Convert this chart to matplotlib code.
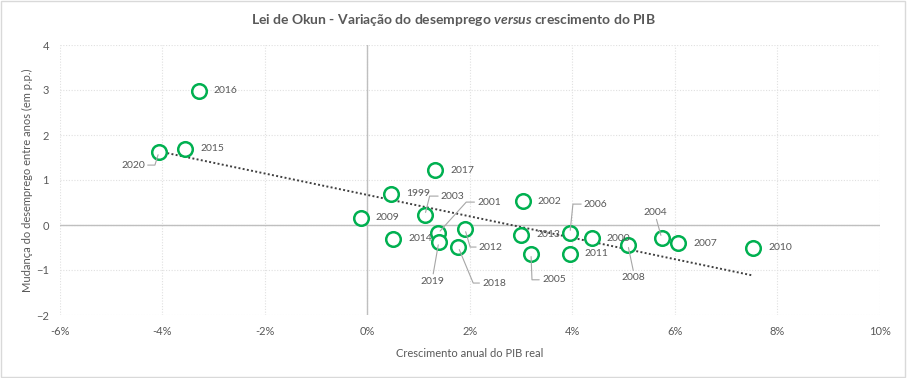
import numpy as np
import matplotlib
matplotlib.use("Agg")
import matplotlib.pyplot as plt
from matplotlib.patches import Rectangle
from matplotlib.ticker import FuncFormatter

plt.rcParams['font.family'] = ['Lato', 'DejaVu Sans']
plt.rcParams['mathtext.fontset'] = 'custom'
plt.rcParams['mathtext.rm'] = 'Lato:bold'
plt.rcParams['mathtext.it'] = 'Lato:italic:bold'

# Data: GDP growth (%) and change in unemployment (p.p.)
years = ['1999', '2000', '2001', '2002', '2003', '2004', '2005', '2006', '2007',
         '2008', '2009', '2010', '2011', '2012', '2013', '2014', '2015', '2016',
         '2017', '2018', '2019', '2020']
gdp = [0.46, 4.38, 1.38, 3.03, 1.12, 5.74, 3.19, 3.95, 6.06,
       5.08, -0.13, 7.53, 3.95, 1.90, 3.00, 0.50, -3.56, -3.29,
       1.32, 1.77, 1.39, -4.07]
unemp = [0.69, -0.29, -0.18, 0.53, 0.22, -0.29, -0.64, -0.18, -0.40,
         -0.44, 0.16, -0.51, -0.64, -0.09, -0.22, -0.31, 1.69, 2.98,
         1.22, -0.49, -0.38, 1.62]

x_ticks = [-6, -4, -2, 0, 2, 4, 6, 8, 10]
y_ticks = [-2, -1, 0, 1, 2, 3, 4]

# label placement: year -> (dx, dy, ha, va, relpos, corner) in pixels
plain = (15, 0, 'left', 'center', None, None)
label_pos = {
    '2020': (-14, -13, 'right', 'center', (1, 0.5), (-4, -13)),
    '2003': (16, 19, 'left', 'center', (0, 0.5), (5, 20)),
    '2001': (39, 31, 'left', 'center', (0, 0.5), (28, 31)),
    '2019': (-6, -39, 'center', 'center', (0.5, 1), None),
    '2012': (14, -18, 'left', 'center', (0, 0.5), (5, -17)),
    '2018': (24, -36, 'left', 'center', (0, 0.5), (15, -36)),
    '2005': (11, -26, 'left', 'center', (0, 0.5), (1, -26)),
    '2006': (14, 29, 'left', 'center', (0, 0.5), (3, 29)),
    '2008': (6, -33, 'center', 'center', (0.5, 1), None),
    '2004': (-6, 26, 'center', 'center', (0.5, 0), None),
}

green = '#00B050'
grey_txt = '#595959'

fig = plt.figure(figsize=(9.07, 3.78), dpi=100)
ax = fig.add_axes([60 / 907, 1 - 315 / 378, 820 / 907, 270 / 378])
fig.patches.append(Rectangle((0.001, 0.002), 0.997, 0.995, transform=fig.transFigure,
                             fill=False, edgecolor='#d9d9d9', lw=1))

ax.set_xlim(-6, 10)
ax.set_ylim(-2, 4)
ax.set_xticks(x_ticks)
ax.set_yticks(y_ticks)
ax.xaxis.set_major_formatter(FuncFormatter(lambda v, p: f'{v:.0f}%'))
ax.grid(True, linestyle=(0, (1, 1.5)), color='#e0e0e0', lw=0.8)
ax.set_axisbelow(True)
for s in ax.spines.values():
    s.set_visible(False)
ax.axhline(0, color='#bfbfbf', lw=1, zorder=1)
ax.axvline(0, color='#bfbfbf', lw=1, zorder=1)
ax.tick_params(length=0, labelsize=8, labelcolor=grey_txt, pad=8)

# linear trend line
coef = np.polyfit(gdp, unemp, 1)
xs = np.array([min(gdp), max(gdp)])
ax.plot(xs, np.polyval(coef, xs), linestyle=(0, (1, 1.2)), color='#404040', lw=1.4, zorder=2)

ax.scatter(gdp, unemp, s=110, facecolors='white', edgecolors=green, linewidths=1.8, zorder=3)

for yr, xv, yv in zip(years, gdp, unemp):
    dx, dy, ha, va, relpos, corner = label_pos.get(yr, plain)
    kw = {}
    if relpos is not None:
        if corner is None:
            cs = 'arc3,rad=0'
        else:
            ang = np.degrees(np.arctan2(corner[1], corner[0]))
            cs = f'angle,angleA=0,angleB={ang:.1f},rad=0'
        kw['arrowprops'] = dict(arrowstyle='-', color='#a6a6a6', lw=0.8,
                                shrinkA=0, shrinkB=2, relpos=relpos,
                                connectionstyle=cs)
    ax.annotate(yr, (xv, yv), xytext=(dx, dy), textcoords='offset pixels',
                ha=ha, va=va, fontsize=7.5, color=grey_txt, zorder=4, **kw)

ax.set_xlabel('Crescimento anual do PIB real', fontsize=8, color=grey_txt, labelpad=8)
ax.set_ylabel('Mudança do desemprego entre anos (em p.p.)', fontsize=8, color=grey_txt, labelpad=2)
fig.text(0.5, 1 - 20 / 378,
         r'Lei de Okun - Variação do desemprego $\mathit{versus}$ crescimento do PIB',
         ha='center', va='center', fontsize=10, fontweight='bold', color=grey_txt)

fig.savefig('out.png', dpi=100)
